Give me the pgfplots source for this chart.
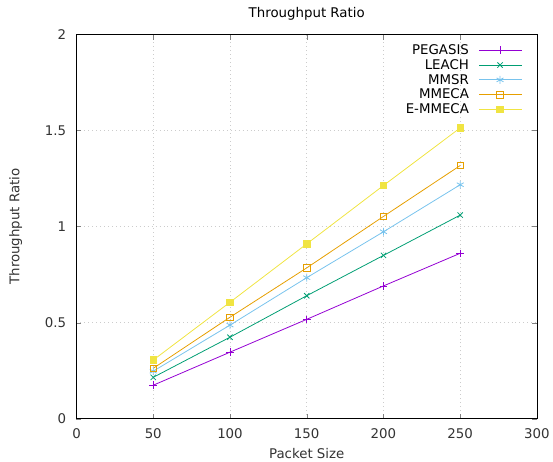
\documentclass[border=0pt]{standalone}
\usepackage{fontspec}
\setmainfont{DejaVu Sans}
\usepackage{pgfplots}
\pgfplotsset{compat=1.18}

\definecolor{cPeg}{HTML}{9400D3}
\definecolor{cLea}{HTML}{009E73}
\definecolor{cMms}{HTML}{56B4E9}
\definecolor{cMme}{HTML}{E69F00}
\definecolor{cEmm}{HTML}{F0E442}

\begin{document}
\begin{tikzpicture}
\begin{axis}[
    scale only axis,
    width=464bp,
    height=387bp,
    xmin=0, xmax=300,
    ymin=0, ymax=2,
    xtick={0,50,...,300},
    ytick={0,0.5,1,1.5,2},
    tick align=inside,
    major tick length=5bp,
    grid=major,
    grid style={dash pattern=on 1pt off 3pt, gray!40, line width=0.5pt},
    axis line style={line width=0.8pt},
    title={Throughput Ratio},
    title style={font=\fontsize{13.5}{15}\selectfont, yshift=5bp},
    xlabel={Packet Size},
    ylabel={Throughput Ratio},
    label style={font=\fontsize{13.5}{15}\selectfont, text=black!80},
    tick label style={font=\fontsize{13.5}{15}\selectfont, text=black!80},
    /pgf/number format/assume math mode=true,
    xticklabel style={yshift=-7bp},
    yticklabel style={xshift=-7bp},
    xlabel style={yshift=-2bp},
    ylabel style={yshift=16bp},
    legend style={at={(rel axis cs:0.975,0.985)}, anchor=north east,
        draw=none, fill=none, legend cell align=right,
        font=\fontsize{13.5}{15}\selectfont, row sep=-0.5pt,
        /tikz/every even column/.style={column sep=0pt},
        /tikz/every odd column/.style={column sep=8bp}},
    legend plot pos=right,
    legend image code/.code={
        \draw[mark repeat=2,mark phase=2] plot coordinates {(0bp,0bp)(21bp,0bp)(43bp,0bp)};},
    every axis plot/.append style={line width=0.8pt},
]
\addplot[color=cPeg, mark=+, mark size=3.8bp] coordinates {
(50,0.174)(100,0.346)(150,0.517)(200,0.691)(250,0.861)};
\addlegendentry{PEGASIS}
\addplot[color=cLea, mark=x, mark size=3.8bp] coordinates {
(50,0.215)(100,0.424)(150,0.640)(200,0.850)(250,1.060)};
\addlegendentry{LEACH}
\addplot[color=cMms!80, mark=asterisk, mark size=4bp] coordinates {
(50,0.247)(100,0.487)(150,0.734)(200,0.973)(250,1.218)};
\addlegendentry{MMSR}
\addplot[color=cMme, mark=square, mark size=3.3bp] coordinates {
(50,0.262)(100,0.528)(150,0.785)(200,1.053)(250,1.318)};
\addlegendentry{MMECA}
\addplot[color=cEmm, mark=square*, mark size=3.3bp] coordinates {
(50,0.305)(100,0.606)(150,0.910)(200,1.214)(250,1.514)};
\addlegendentry{E-MMECA}
\end{axis}
\path ([xshift=-6bp]current bounding box.west);
\path ([yshift=4bp]current bounding box.north);
\end{tikzpicture}
\end{document}
